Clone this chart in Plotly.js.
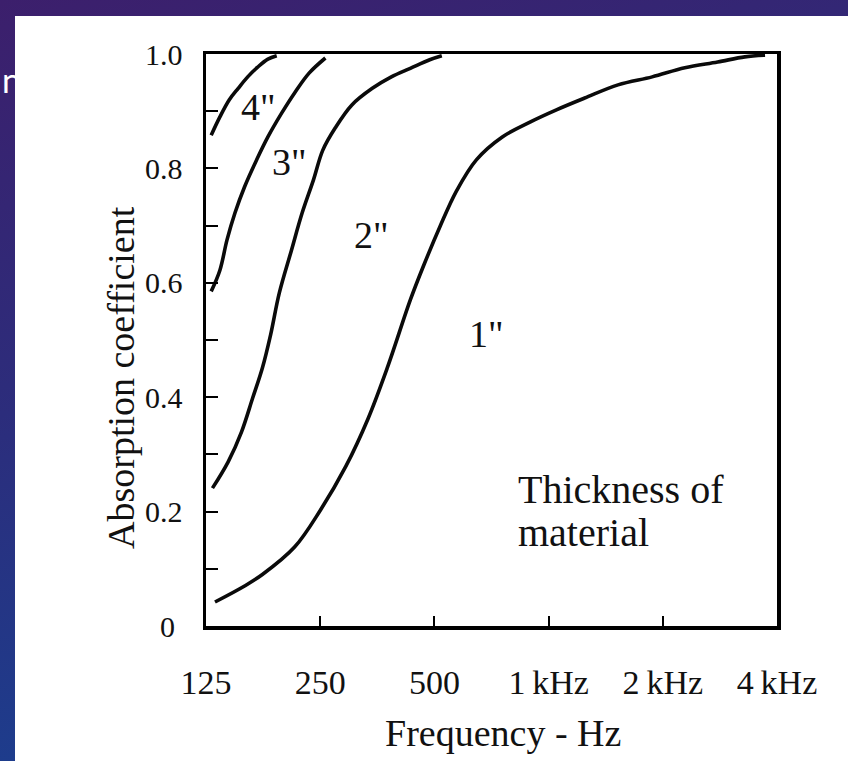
<!DOCTYPE html>
<html>
<head>
<meta charset="utf-8">
<script src="https://cdn.plot.ly/plotly-3.0.1.min.js"></script>
<style>
html,body{margin:0;padding:0;background:#ffffff;overflow:hidden;}
#chart{width:848px;height:761px;}
</style>
</head>
<body>
<div id="chart"></div>
<script>
// ---- data ----
const freq1 = [132,158,176,214,250,292,334,376,432,467,517,571,645,755,893,1045,1245,1524,1875,2286,2790,3290,3720];
const abs1  = [0.042,0.070,0.090,0.138,0.202,0.279,0.362,0.452,0.570,0.628,0.698,0.760,0.815,0.855,0.881,0.902,0.923,0.946,0.960,0.976,0.986,0.995,0.998];

const freq2 = [130,143,155,166,176,185,195,210,224,240,254,274,303,343,385,432,486,523];
const abs2  = [0.241,0.287,0.339,0.399,0.451,0.509,0.582,0.657,0.722,0.780,0.832,0.871,0.911,0.940,0.960,0.975,0.990,0.997];

const freq3 = [129,136,142,149,158,170,182,198,214,234,258];
const abs3  = [0.585,0.622,0.675,0.722,0.768,0.815,0.855,0.897,0.932,0.967,0.993];

const freq4 = [129,136,144,152,161,171,182,192];
const abs4  = [0.858,0.890,0.920,0.940,0.960,0.977,0.991,0.997];

const xTickVals = [125,250,500,1000,2000,4000];
const xTickText = ['125','250','500','1\u2009kHz','2\u2009kHz','4\u2009kHz'];
const yTickVals = [0,0.1,0.2,0.3,0.4,0.5,0.6,0.7,0.8,0.9,1.0];
const yTickText = ['0\u2005','','0.2','','0.4','','0.6','','0.8','','1.0'];

const curveNames = ['1"','2"','3"','4"'];
const labelFreq  = [687,342,208,172];
const labelAbs   = [0.51,0.684,0.811,0.907];

const xTitle = 'Frequency - Hz';
const yTitle = 'Absorption coefficient';
const noteLines = ['Thickness of','material'];

// ---- figure ----
const W = 848, H = 761;
const M = {l:206, r:71, t:54, b:135};
const pw = W - M.l - M.r, ph = H - M.t - M.b;
const px = x => (x - M.l) / pw;          // page pixel -> paper x
const py = y => (H - M.b - y) / ph;      // page pixel -> paper y

const lineStyle = {color:'#0a0a0a', width:3.6, shape:'spline', smoothing:1.0};
const series = [[freq1,abs1],[freq2,abs2],[freq3,abs3],[freq4,abs4]];
const traces = series.map((s,i) => ({
  type:'scatter', mode:'lines', x:s[0], y:s[1], name:curveNames[i],
  line:lineStyle, hoverinfo:'x+y', showlegend:false
}));

const serif = 'Liberation Serif, Times New Roman, serif';

const annotations = curveNames.map((t,i) => ({
  xref:'x', yref:'y', x:Math.log10(labelFreq[i]), y:labelAbs[i],
  text:t, showarrow:false, font:{family:serif, size:38, color:'#111'},
  xanchor:'center', yanchor:'middle'
}));
annotations.push({
  xref:'paper', yref:'paper', x:px(516), y:py(489), xanchor:'left', yanchor:'middle',
  text:noteLines[0], showarrow:false, font:{family:serif, size:40, color:'#111'}
});
annotations.push({
  xref:'paper', yref:'paper', x:px(516), y:py(532), xanchor:'left', yanchor:'middle',
  text:noteLines[1], showarrow:false, font:{family:serif, size:40, color:'#111'}
});
// axis titles
annotations.push({
  xref:'paper', yref:'paper', x:px(503), y:py(733), xanchor:'center', yanchor:'middle',
  text:xTitle, showarrow:false, font:{family:serif, size:38, color:'#111'}
});
annotations.push({
  xref:'paper', yref:'paper', x:px(121), y:py(378), xanchor:'center', yanchor:'middle',
  text:yTitle, textangle:-90, showarrow:false, font:{family:serif, size:38, color:'#111'}
});
// fragment of the slide title behind the chart
annotations.push({
  xref:'paper', yref:'paper', x:px(0), y:py(80), xanchor:'left', yanchor:'middle',
  text:'n', showarrow:false, font:{family:'Lato, Open Sans, sans-serif', size:34, color:'#ffffff'}
});

const bgSvg = "<svg xmlns='http://www.w3.org/2000/svg' width='848' height='761'>" +
  "<defs><linearGradient id='g' x1='0' y1='0' x2='0.3' y2='1'>" +
  "<stop offset='0' stop-color='#3c1f6c'/><stop offset='0.5' stop-color='#2c2d7c'/><stop offset='1' stop-color='#1b3f8f'/>" +
  "</linearGradient></defs><rect width='848' height='761' fill='url(#g)'/></svg>";

const layout = {
  width:W, height:H, margin:M,
  paper_bgcolor:'#ffffff', plot_bgcolor:'#ffffff',
  showlegend:false,
  font:{family:serif, color:'#111'},
  images:[{
    source:'data:image/svg+xml;charset=utf-8,' + encodeURIComponent(bgSvg),
    xref:'paper', yref:'paper', x:px(0), y:py(0), sizex:W/pw, sizey:H/ph,
    xanchor:'left', yanchor:'top', sizing:'stretch', layer:'below'
  }],
  shapes:[{
    type:'rect', xref:'paper', yref:'paper', layer:'below',
    x0:px(15), x1:px(W+5), y0:py(H+5), y1:py(16),
    fillcolor:'#ffffff', line:{width:0}
  }],
  xaxis:{
    type:'log', range:[Math.log10(125), Math.log10(4000)],
    tickmode:'array', tickvals:xTickVals, ticktext:xTickText,
    ticks:'inside', ticklen:10, tickwidth:2, tickcolor:'#000',
    ticklabelstandoff:24,
    tickfont:{family:serif, size:34, color:'#111'},
    showline:true, linewidth:3.5, linecolor:'#000', mirror:true,
    showgrid:false, zeroline:false
  },
  yaxis:{
    range:[0,1],
    tickmode:'array', tickvals:yTickVals, ticktext:yTickText,
    ticks:'inside', ticklen:12, tickwidth:2, tickcolor:'#000',
    ticklabelstandoff:14,
    tickfont:{family:serif, size:30, color:'#111'},
    showline:true, linewidth:3.5, linecolor:'#000', mirror:true,
    showgrid:false, zeroline:false
  },
  annotations:annotations
};

Plotly.newPlot('chart', traces, layout, {staticPlot:true, displayModeBar:false});
</script>
</body>
</html>
